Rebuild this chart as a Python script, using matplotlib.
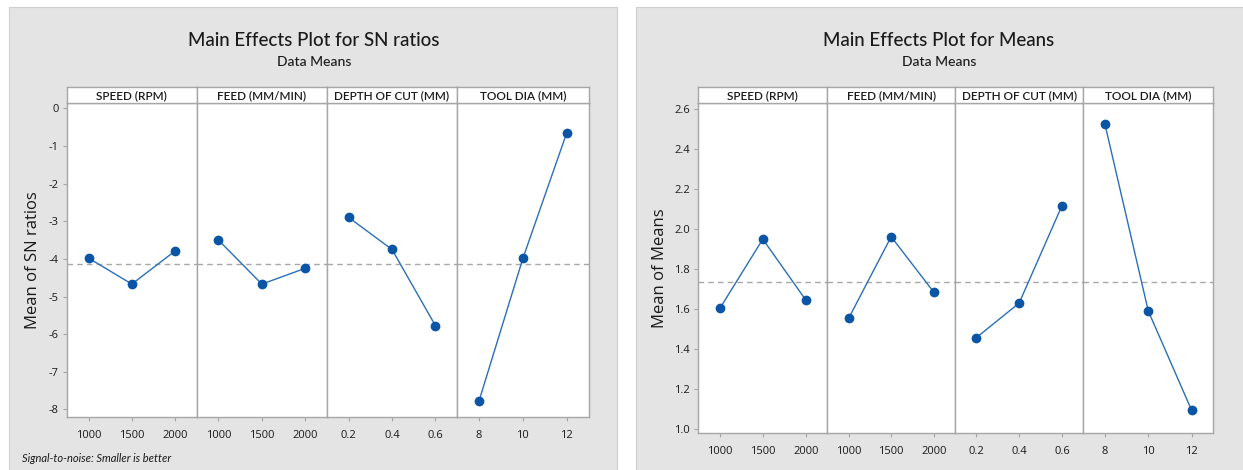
import matplotlib
matplotlib.use("Agg")
import matplotlib.pyplot as plt
from matplotlib.patches import Rectangle
import numpy as np

# ---------------- data ----------------
factors = ["SPEED (RPM)", "FEED (MM/MIN)", "DEPTH OF CUT (MM)", "TOOL DIA (MM)"]
speed_levels = ["1000", "1500", "2000"]
feed_levels = ["1000", "1500", "2000"]
depth_levels = ["0.2", "0.4", "0.6"]
tool_levels = ["8", "10", "12"]

sn_speed = [-3.98, -4.67, -3.79]
sn_feed = [-3.50, -4.67, -4.25]
sn_depth = [-2.90, -3.75, -5.77]
sn_tool = [-7.78, -3.99, -0.65]

mean_speed = [1.603, 1.950, 1.645]
mean_feed = [1.553, 1.962, 1.685]
mean_depth = [1.457, 1.630, 2.117]
mean_tool = [2.525, 1.590, 1.093]

sn_yticks = [0, -1, -2, -3, -4, -5, -6, -7, -8]
mean_yticks = [1.0, 1.2, 1.4, 1.6, 1.8, 2.0, 2.2, 2.4, 2.6]

# ---------------- style ----------------
W, H = 1243, 470
fig = plt.figure(figsize=(W / 100, H / 100), dpi=100)
fig.patch.set_facecolor("white")

NARROW = ["Lato", "DejaVu Sans"]
REG = ["Open Sans", "DejaVu Sans"]
PANEL_BG = "#e4e4e4"
SPINE = "#a6a6a6"
LINE_C = "#2a6fb8"
MARK_C = "#0a55a5"
TXT = "#1a1a1a"


def ax_px(x0, y0, x1, y1):
    """pixel box (top-left origin) -> figure axes"""
    return fig.add_axes([x0 / W, 1 - y1 / H, (x1 - x0) / W, (y1 - y0) / H])


def bg_box(x0, y0, x1, y1):
    fig.patches.append(Rectangle((x0 / W, 1 - y1 / H), (x1 - x0) / W, (y1 - y0) / H,
                                 transform=fig.transFigure, facecolor=PANEL_BG,
                                 edgecolor="#cfcfcf", lw=0.8, zorder=-5))


def group(edges, top, head_top, bottom, series, levels, ylim, yticks, yfmt,
          ylabel, ylabel_x):
    allvals = np.concatenate([np.asarray(s, float) for s in series])
    grand = allvals.mean()
    for i in range(4):
        x0, x1 = edges[i], edges[i + 1]
        ax = ax_px(x0, top, x1, bottom)
        ax.set_facecolor("white")
        pos = np.arange(len(levels[i]))
        ax.plot(pos, series[i], color=LINE_C, lw=1.0, marker="o", ms=6,
                mfc=MARK_C, mec=MARK_C, zorder=3)
        ax.axhline(grand, color="#a8a8a8", lw=1.0, ls=(0, (4, 3)), zorder=2)
        ax.set_xlim(-0.5, 2.5)
        ax.set_ylim(*ylim)
        ax.set_xticks(pos)
        ax.set_xticklabels(levels[i], fontsize=8, family=REG, weight="medium",
                           color=TXT)
        for s in ax.spines.values():
            s.set_color(SPINE)
            s.set_linewidth(1.0)
        ax.tick_params(axis="x", length=3, color=SPINE, pad=6)
        if i == 0:
            ax.set_yticks(yticks)
            ax.set_yticklabels([yfmt(v) for v in yticks], fontsize=8,
                               family=REG, weight="medium", color=TXT)
            ax.tick_params(axis="y", length=3, color=SPINE, pad=3)
        else:
            ax.set_yticks([])
        # header strip
        hx = ax_px(x0, head_top, x1, top)
        hx.set_facecolor("white")
        hx.set_xticks([])
        hx.set_yticks([])
        for s in hx.spines.values():
            s.set_color(SPINE)
            s.set_linewidth(1.0)
        hx.text(0.5, 0.45, factors[i], ha="center", va="center", fontsize=8.5,
                family=NARROW, weight="semibold", color=TXT,
                transform=hx.transAxes)
    fig.text(ylabel_x / W, 1 - (top + bottom) / 2 / H, ylabel, rotation=90,
             ha="center", va="center", fontsize=12, family=REG, color=TXT)


# background panels
bg_box(9, 7, 617, 472)
bg_box(636, 7, 1245, 472)

# left group: SN ratios
group([67, 196.7, 327, 457, 588.7], 103, 87, 417,
      [sn_speed, sn_feed, sn_depth, sn_tool],
      [speed_levels, feed_levels, depth_levels, tool_levels],
      (-8.2, 0.14), sn_yticks, lambda v: f"{v:d}", "Mean of SN ratios", 33)

# right group: Means
group([698.3, 827.3, 955, 1083.3, 1213.3], 103.3, 86.7, 433.3,
      [mean_speed, mean_feed, mean_depth, mean_tool],
      [speed_levels, feed_levels, depth_levels, tool_levels],
      (0.978, 2.63), mean_yticks, lambda v: f"{v:.1f}", "Mean of Means", 660)

# titles
fig.text(314 / W, 1 - 40 / H, "Main Effects Plot for SN ratios", ha="center",
         va="center", fontsize=13.5, family=NARROW, weight="medium", color=TXT)
fig.text(314 / W, 1 - 62 / H, "Data Means", ha="center", va="center",
         fontsize=10, family=NARROW, weight="medium", color=TXT)
fig.text(939 / W, 1 - 40 / H, "Main Effects Plot for Means", ha="center",
         va="center", fontsize=13.5, family=NARROW, weight="medium", color=TXT)
fig.text(939 / W, 1 - 62 / H, "Data Means", ha="center", va="center",
         fontsize=10, family=NARROW, weight="medium", color=TXT)

fig.text(22 / W, 1 - 458 / H, "Signal-to-noise: Smaller is better", ha="left",
         va="center", fontsize=8, family=NARROW, style="italic", color=TXT)

fig.savefig("out.png", dpi=100, facecolor="white")
